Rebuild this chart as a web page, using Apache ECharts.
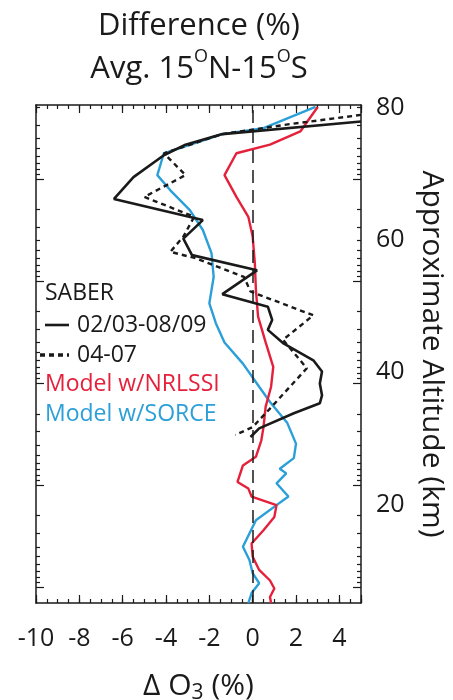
<!DOCTYPE html>
<html>
<head>
<meta charset="utf-8">
<script src="https://cdn.jsdelivr.net/npm/echarts@6/dist/echarts.min.js"></script>
<style>
  html, body { margin: 0; padding: 0; background: #fff; }
  #chart { width: 453px; height: 700px; }
</style>
</head>
<body>
<div id="chart"></div>
<script>
// each point: [delta O3 (%), approximate altitude (km)], top to bottom
const saberSolid = [
  [5.0, 77.9], [-1.4, 76.0], [-3.1, 74.4], [-4.1, 72.8], [-5.5, 69.5], [-6.4, 66.2],
  [-2.3, 63.0], [-3.2, 60.2], [-2.8, 57.7], [0.2, 55.4], [-1.4, 51.8], [0.7, 49.9],
  [0.9, 47.9], [0.7, 46.4], [1.4, 44.4], [2.8, 41.8], [3.2, 40.1], [3.1, 38.3],
  [3.2, 36.5], [3.1, 35.3], [1.9, 33.8], [0.3, 31.5], [-0.1, 30.2]
];
const saberDashed = [
  [5.0, 78.9], [1.7, 77.5], [-1.4, 76.0], [-4.1, 73.1], [-3.1, 69.8], [-5.0, 66.5],
  [-2.7, 63.5], [-3.2, 60.5], [-3.8, 58.2], [-2.6, 57.2], [-0.4, 54.4], [-0.1, 52.2],
  [2.8, 48.6], [1.4, 44.9], [2.5, 40.6], [0.8, 34.5], [0.0, 31.7], [-0.8, 30.5]
];
const modelNrlssi = [
  [3.0, 80.1], [2.2, 76.4], [0.8, 74.4], [-0.75, 73.1], [-1.3, 69.8], [-0.75, 66.5],
  [-0.2, 63.5], [0.0, 60.5], [0.1, 56.5], [0.15, 52.4], [0.25, 48.4], [0.6, 44.5],
  [0.95, 40.8], [0.85, 37.8], [0.6, 34.8], [0.5, 31.7], [0.4, 29.7], [0.15, 27.2],
  [-0.45, 25.9], [-0.7, 23.4], [-0.2, 22.4], [-0.05, 21.2], [1.1, 19.9], [1.0, 18.1],
  [0.5, 16.1], [-0.05, 14.1], [0.0, 12.1], [0.3, 10.1], [0.8, 8.5], [1.0, 7.3],
  [0.8, 6.0], [0.85, 5.1]
];
const modelSorce = [
  [2.9, 80.1], [0.5, 76.9], [-1.4, 76.0], [-4.1, 73.1], [-4.4, 69.8], [-3.8, 67.5],
  [-2.9, 64.5], [-2.3, 61.5], [-1.9, 58.0], [-1.8, 54.4], [-2.0, 50.4], [-1.7, 47.4],
  [-1.3, 44.5], [-0.45, 41.3], [0.3, 37.8], [0.8, 35.5], [1.6, 32.3], [2.0, 29.2],
  [1.9, 27.0], [1.25, 25.4], [1.55, 24.7], [1.1, 23.2], [1.65, 21.2], [1.1, 19.9],
  [0.15, 17.6], [-0.15, 15.6], [-0.45, 13.6], [-0.15, 11.6], [0.0, 9.6], [0.3, 8.1],
  [-0.05, 6.6], [-0.2, 5.1]
];

const xLabels = [-10, -8, -6, -4, -2, 0, 2, 4];
const yLabels = [20, 40, 60, 80];
// altitude axis is really log-pressure: decade ticks plus 2..9 minor ticks
const yMajorTicks = [7.5, 22.9, 38.4, 53.8, 69.2];
const yMinorTicks = [
  8.2, 9.0, 9.9, 10.9, 12.1, 13.6, 15.6, 18.3,
  23.6, 24.4, 25.3, 26.3, 27.5, 29.0, 31.0, 33.7,
  39.1, 39.9, 40.8, 41.8, 43.0, 44.5, 46.5, 49.2,
  54.5, 55.3, 56.2, 57.2, 58.4, 59.9, 61.9, 64.6,
  69.9, 70.7, 71.6, 72.6, 73.8, 75.3, 77.3, 80.0
];

const FONT = '"Open Sans", sans-serif';
const INK = '#1a1a1a';
const RED = '#e5203b';
const BLUE = '#2b9fd8';
const X_MIN = -10, X_MAX = 5;
const Y_MIN = 5.1, Y_MAX = 80.4;

const chart = echarts.init(document.getElementById('chart'));

function xAxisFor(position, interval, tickLen, main) {
  return {
    type: 'value', position, min: X_MIN, max: X_MAX, interval,
    axisLine: { show: main, onZero: false, lineStyle: { color: INK, width: 1.5 } },
    axisTick: { inside: true, length: tickLen, lineStyle: { color: INK, width: 1.2 } },
    axisLabel: { show: false },
    splitLine: { show: false }
  };
}

function yAxisFor(position, ticks, tickLen, main) {
  return {
    type: 'value', position, min: Y_MIN, max: Y_MAX,
    axisLine: { show: main, onZero: false, lineStyle: { color: INK, width: 1.5 } },
    axisTick: { inside: true, length: tickLen, customValues: ticks, lineStyle: { color: INK, width: 1.2 } },
    axisLabel: { show: false },
    splitLine: { show: false }
  };
}

const xBottom = xAxisFor('bottom', 2, 8, true);
xBottom.axisLabel = {
  show: true, customValues: xLabels, margin: 23,
  fontSize: 25, fontFamily: FONT, color: INK
};
xBottom.name = 'Δ O{sub|3} (%)';
xBottom.nameLocation = 'middle';
xBottom.nameGap = 65;
xBottom.nameTextStyle = {
  fontSize: 30, fontFamily: FONT, color: INK, lineHeight: 36,
  rich: { sub: { fontSize: 21, fontFamily: FONT, color: INK, lineHeight: 26, verticalAlign: 'bottom' } }
};

const yRight = yAxisFor('right', yMajorTicks, 8, true);
yRight.axisLabel = {
  show: true, customValues: yLabels, margin: 15,
  fontSize: 25, fontFamily: FONT, color: INK
};
yRight.name = 'Approximate Altitude (km)';
yRight.nameLocation = 'middle';
yRight.nameRotate = -90;
yRight.nameGap = 56;
yRight.nameTextStyle = { fontSize: 30, fontFamily: FONT, color: INK };

const lineSeries = (name, data, color, type, width) => ({
  name, type: 'line', data, xAxisIndex: 0, yAxisIndex: 0,
  symbol: 'none', clip: true, smooth: false,
  lineStyle: { color, width, type }, itemStyle: { color }
});

const zero = lineSeries('zero', [], INK, 'solid', 1);
zero.markLine = {
  silent: true, symbol: ['none', 'none'], label: { show: false },
  lineStyle: { color: INK, width: 1.5, type: [13, 7] },
  data: [{ xAxis: 0 }]
};

const textAt = (x, y, text, fill) => ({
  type: 'text', x, y,
  style: { text, fill, fontSize: 23, fontFamily: FONT, verticalAlign: 'middle' }
});

chart.setOption({
  animation: false,
  backgroundColor: '#fff',
  title: {
    text: 'Difference (%)\nAvg. 15{sup|O}N-15{sup|O}S',
    left: 194, top: 0, textAlign: 'center',
    textStyle: {
      fontSize: 31, fontWeight: 'normal', fontFamily: FONT, color: INK, lineHeight: 43,
      rich: { sup: { fontSize: 18, fontFamily: FONT, color: INK, lineHeight: 31, verticalAlign: 'top' } }
    }
  },
  grid: { left: 36, right: 92, top: 105, bottom: 97, containLabel: false, outerBoundsMode: 'none' },
  xAxis: [
    xBottom,
    xAxisFor('bottom', 0.5, 4, false),
    xAxisFor('top', 2, 8, true),
    xAxisFor('top', 0.5, 4, false)
  ],
  yAxis: [
    yRight,
    yAxisFor('right', yMinorTicks, 4, false),
    yAxisFor('left', yMajorTicks, 8, true),
    yAxisFor('left', yMinorTicks, 4, false)
  ],
  series: [
    zero,
    lineSeries('Model w/SORCE', modelSorce, BLUE, 'solid', 2.4),
    lineSeries('Model w/NRLSSI', modelNrlssi, RED, 'solid', 2.4),
    lineSeries('04-07', saberDashed, INK, [5, 4], 2.4),
    lineSeries('02/03-08/09', saberSolid, INK, 'solid', 2.6)
  ],
  // in-plot key, as in the original figure
  graphic: [
    textAt(45, 293, 'SABER', INK),
    { type: 'line', shape: { x1: 45, y1: 325, x2: 69, y2: 325 }, style: { stroke: INK, lineWidth: 2.6 } },
    textAt(77, 325, '02/03-08/09', INK),
    { type: 'line', shape: { x1: 40, y1: 355, x2: 69, y2: 355 }, style: { stroke: INK, lineWidth: 3.5, lineDash: [5, 4] } },
    textAt(77, 355, '04-07', INK),
    textAt(45, 384, 'Model w/NRLSSI', RED),
    textAt(45, 414, 'Model w/SORCE', BLUE)
  ]
});

window.addEventListener('resize', () => chart.resize());
</script>
</body>
</html>
